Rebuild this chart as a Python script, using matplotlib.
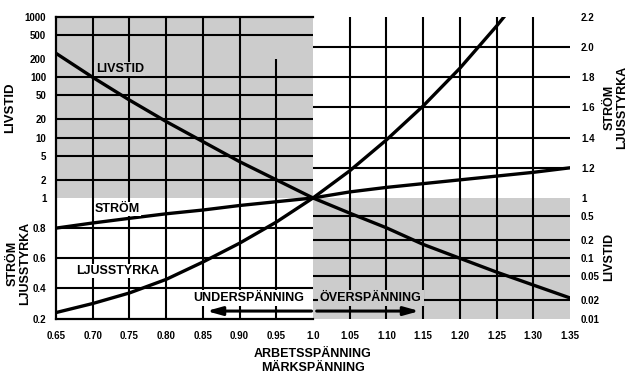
import matplotlib
matplotlib.use("Agg")
import matplotlib.pyplot as plt

plt.rcParams['font.family'] = ['Liberation Sans', 'DejaVu Sans']
plt.rcParams['font.weight'] = 'bold'

# data
volt = [0.65, 0.70, 0.75, 0.80, 0.85, 0.90, 0.95, 1.00,
        1.05, 1.10, 1.15, 1.20, 1.25, 1.30, 1.35]
livstid = [250, 100, 42, 18.5, 8.6, 4.0, 2.0, 1.0,
           0.56, 0.32, 0.17, 0.10, 0.059, 0.036, 0.022]
strom = [0.80, 0.834, 0.865, 0.895, 0.92, 0.95, 0.975, 1.0,
         1.04, 1.07, 1.095, 1.12, 1.145, 1.17, 1.20]
ljus = [0.24, 0.30, 0.37, 0.46, 0.575, 0.70, 0.84, 1.0,
        1.18, 1.385, 1.61, 1.86, 2.14, 2.44, 2.77]

xticks = [0.65, 0.70, 0.75, 0.80, 0.85, 0.90, 0.95, 1.0,
          1.05, 1.10, 1.15, 1.20, 1.25, 1.30, 1.35]
xlabels = ['0.65', '0.70', '0.75', '0.80', '0.85', '0.90', '0.95', '1.0',
           '1.05', '1.10', '1.15', '1.20', '1.25', '1.30', '1.35']
log_left = [1, 2, 5, 10, 20, 50, 100, 200, 500, 1000]
log_right = [0.01, 0.02, 0.05, 0.1, 0.2, 0.5]
lin_left = [0.2, 0.4, 0.6, 0.8]
lin_right = [1, 1.2, 1.4, 1.6, 1.8, 2.0, 2.2]
lin_right_lbl = ['1', '1.2', '1.4', '1.6', '1.8', '2.0', '2.2']

grid_log_up = [500, 100, 50, 20, 10, 5, 2]
grid_log_low = [0.5, 0.2, 0.1, 0.05, 0.02]
grid_lin_up = [1.2, 1.4, 1.6, 1.8, 2.0]
grid_lin_low = [0.4, 0.6, 0.8]
vgrid = [0.70, 0.75, 0.80, 0.85, 0.90, 1.05, 1.10, 1.15, 1.20, 1.25, 1.30]

gray = '#cccccc'
lw_grid = 1.5
lw_curve = 2.4

fig = plt.figure(figsize=(6.36, 3.92), dpi=100)
ax = fig.add_axes([56/636, 1-318.6/392, 514/636, 301.6/392])

# LIVSTID axis (log)
ax.set_yscale('log')
ax.set_xlim(0.65, 1.35)
ax.set_ylim(0.01, 1000)
ax.fill_between([0.65, 1.0], 1, 1000, color=gray, lw=0, zorder=0)
ax.fill_between([1.0, 1.35], 0.01, 1, color=gray, lw=0, zorder=0)
ax.hlines(grid_log_up, 0.65, 1.0, color='black', lw=lw_grid)
ax.hlines(grid_log_low, 1.0, 1.35, color='black', lw=lw_grid)
ax.vlines(vgrid, 0.01, 1000, color='black', lw=lw_grid)
ax.vlines(0.95, 0.01, 200, color='black', lw=lw_grid)
ax.plot(volt, livstid, color='black', lw=lw_curve)

ax.set_xticks(xticks)
ax.set_xticklabels(xlabels)
ax.set_yticks(log_left)
ax.set_yticklabels([str(v) for v in log_left])
ax.yaxis.set_minor_locator(matplotlib.ticker.NullLocator())
ax.tick_params(axis='both', length=0, labelsize=7)
ax.tick_params(axis='x', pad=9)
ax.tick_params(axis='y', pad=7)
ax.spines['right'].set_visible(False)
ax.spines['top'].set_bounds(0.65, 1.0)
ax.spines['bottom'].set_bounds(0.65, 1.0)
for s in ['left', 'top', 'bottom']:
    ax.spines[s].set_linewidth(1.6)

ax_lr = ax.secondary_yaxis('right')
ax_lr.set_yticks(log_right)
ax_lr.set_yticklabels(['0.01', '0.02', '0.05', '0.1', '0.2', '0.5'])
ax_lr.yaxis.set_minor_locator(matplotlib.ticker.NullLocator())
ax_lr.tick_params(length=0, labelsize=7, pad=8)
ax_lr.spines['right'].set_visible(False)

# STRÖM / LJUSSTYRKA axis (linear)
axl = ax.twinx()
axl.set_ylim(0.2, 2.2)
axl.set_xlim(0.65, 1.35)
for s in axl.spines.values():
    s.set_visible(False)
axl.hlines(grid_lin_up, 1.0, 1.35, color='black', lw=lw_grid)
axl.hlines(grid_lin_low, 0.65, 1.0, color='black', lw=lw_grid)
axl.plot(volt, strom, color='black', lw=lw_curve)
axl.plot(volt, ljus, color='black', lw=lw_curve)
axl.set_yticks(lin_right)
axl.set_yticklabels(lin_right_lbl)
axl.tick_params(length=0, labelsize=7, pad=8)

axl_l = axl.secondary_yaxis('left')
axl_l.set_yticks(lin_left)
axl_l.set_yticklabels(['0.2', '0.4', '0.6', '0.8'])
axl_l.tick_params(length=0, labelsize=7, pad=7)
axl_l.spines['left'].set_visible(False)

# labels inside the plot
axl.text(0.704, 1.855, 'LIVSTID', fontsize=9, va='center', ha='left',
         bbox=dict(boxstyle='square,pad=0.1', fc=gray, ec='none'))
axl.text(0.703, 0.927, 'STRÖM', fontsize=9, va='center', ha='left',
         bbox=dict(boxstyle='square,pad=0.1', fc='white', ec='none'))
axl.text(0.677, 0.516, 'LJUSSTYRKA', fontsize=9, va='center', ha='left',
         bbox=dict(boxstyle='square,pad=0.1', fc='white', ec='none'))
axl.text(0.837, 0.337, 'UNDERSPÄNNING', fontsize=9, va='center', ha='left',
         bbox=dict(boxstyle='square,pad=0.15', fc='white', ec='none'))
axl.text(1.0095, 0.337, 'ÖVERSPÄNNING', fontsize=9, va='center', ha='left',
         bbox=dict(boxstyle='square,pad=0.15', fc=gray, ec='none'))
axl.annotate('', xy=(0.855, 0.25), xytext=(0.998, 0.25),
             arrowprops=dict(arrowstyle='-|>,head_length=0.9,head_width=0.25',
                             lw=2.2, color='black', shrinkA=0, shrinkB=0))
axl.annotate('', xy=(1.145, 0.25), xytext=(1.005, 0.25),
             arrowprops=dict(arrowstyle='-|>,head_length=0.9,head_width=0.25',
                             lw=2.2, color='black', shrinkA=0, shrinkB=0))

# axis titles
fig.text(10/636, 1-108/392, 'LIVSTID', rotation=90, fontsize=9.5,
         ha='center', va='center')
fig.text(19/636, 1-263/392, 'STRÖM\nLJUSSTYRKA', rotation=90, fontsize=9,
         ha='center', va='center', multialignment='center', linespacing=1.0)
fig.text(616/636, 1-107/392, 'STRÖM\nLJUSSTYRKA', rotation=90, fontsize=9,
         ha='center', va='center', multialignment='center', linespacing=1.0)
fig.text(609/636, 1-257/392, 'LIVSTID', rotation=90, fontsize=9,
         ha='center', va='center')
fig.text(313/636, 1-361/392, 'ARBETSSPÄNNING\nMÄRKSPÄNNING', fontsize=9,
         ha='center', va='center', linespacing=1.15)

fig.savefig('out.png', dpi=100)
